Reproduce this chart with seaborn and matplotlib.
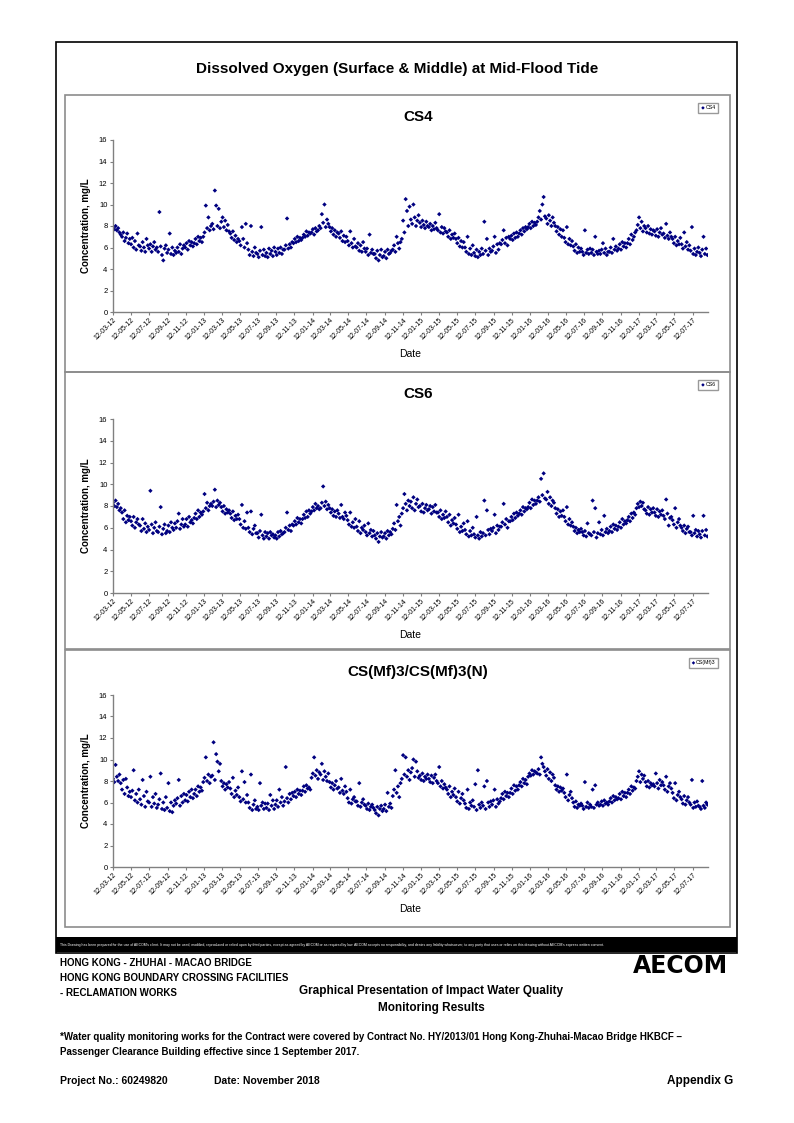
import pandas as pd
import numpy as np
import matplotlib
matplotlib.use('Agg')
import matplotlib.pyplot as plt
import matplotlib.dates as mdates
from matplotlib.patches import Rectangle
import seaborn as sns

# ---- data (mg/L), one row per month starting 12-03-12 ----
cs4_do = [
    7.9, 7.7, 8.0, 7.6, 7.8, 7.4, 7.2,
    7.0, 7.4, 6.6, 6.9, 7.3, 6.4, 6.8,
    6.3, 6.9, 6.0, 6.6, 5.8, 7.3, 6.2,
    6.1, 5.7, 6.5, 6.0, 5.6, 6.8, 6.2,
    5.9, 6.3, 5.6, 6.1, 6.5, 5.8, 6.0,
    5.6, 9.3, 6.1, 5.3, 4.8, 5.9, 6.2,
    5.5, 5.8, 7.3, 5.4, 6.0, 5.3, 5.7,
    5.5, 6.0, 5.6, 6.3, 5.4, 5.9, 6.2,
    6.0, 6.4, 5.8, 6.6, 6.2, 6.5, 6.1,
    6.4, 6.8, 6.3, 7.0, 6.6, 6.9, 6.5,
    7.0, 7.4, 9.9, 7.8, 8.8, 7.6, 8.0,
    8.2, 7.7, 11.3, 9.9, 8.0, 9.6, 7.8,
    8.4, 8.8, 7.9, 8.5, 7.6, 8.1, 7.5,
    7.3, 6.9, 7.5, 6.7, 7.1, 6.5, 6.8,
    6.6, 6.2, 7.9, 6.8, 6.0, 8.2, 6.4,
    5.8, 5.3, 8.0, 5.6, 5.2, 6.0, 5.5,
    5.4, 5.1, 5.7, 7.9, 5.3, 5.8, 5.2,
    5.5, 5.1, 5.9, 5.4, 5.7, 5.2, 6.0,
    5.6, 5.3, 5.9, 5.5, 6.0, 5.4, 5.8,
    5.8, 6.2, 8.7, 5.9, 6.3, 6.0, 6.5,
    6.4, 6.8, 6.5, 7.0, 6.6, 6.9, 6.7,
    6.9, 7.2, 7.0, 7.5, 7.1, 7.4, 7.3,
    7.4, 7.7, 7.2, 7.8, 7.5, 7.6, 8.0,
    7.8, 9.1, 8.3, 10.0, 7.9, 8.6, 8.2,
    7.9, 7.5, 7.8, 7.2, 7.6, 7.0, 7.4,
    7.3, 6.9, 7.5, 6.6, 7.1, 6.5, 7.0,
    6.6, 6.2, 7.5, 6.4, 6.0, 6.8, 6.1,
    6.0, 6.4, 5.7, 6.2, 5.6, 6.5, 5.9,
    5.6, 5.9, 5.3, 7.2, 5.5, 5.8, 5.4,
    5.4, 5.0, 5.7, 4.8, 5.3, 5.8, 5.1,
    5.2, 5.6, 5.0, 5.8, 5.4, 5.5, 5.7,
    5.8, 6.2, 5.6, 7.0, 6.4, 5.9, 6.5,
    6.8, 8.5, 7.4, 10.5, 9.4, 8.0, 9.8,
    8.6, 8.2, 10.0, 8.8, 8.0, 8.5, 9.0,
    8.3, 7.9, 8.5, 8.1, 7.8, 8.4, 8.0,
    7.9, 8.2, 7.6, 8.0, 7.7, 8.3, 7.8,
    7.6, 9.1, 7.4, 7.9, 7.3, 7.8, 7.5,
    7.4, 7.0, 7.6, 6.8, 7.2, 6.9, 7.3,
    6.8, 6.4, 6.9, 6.1, 6.6, 6.0, 6.5,
    6.0, 5.6, 7.0, 5.4, 5.9, 5.3, 6.2,
    5.5, 5.2, 5.8, 5.1, 5.6, 5.3, 5.9,
    5.4, 8.4, 5.7, 6.8, 5.3, 5.9, 5.6,
    5.7, 6.1, 7.0, 5.5, 6.3, 5.8, 6.4,
    6.3, 6.7, 7.6, 6.4, 6.9, 6.2, 7.0,
    6.8, 7.1, 6.7, 7.3, 6.9, 7.4, 7.0,
    7.3, 7.6, 7.2, 7.8, 7.5, 7.9, 7.7,
    7.9, 8.2, 7.8, 8.4, 8.0, 8.3, 8.1,
    8.4, 8.8, 9.4, 8.6, 10.0, 10.7, 8.9,
    8.7, 8.2, 9.0, 8.5, 8.0, 8.8, 8.3,
    8.0, 7.5, 7.9, 7.2, 7.7, 7.0, 7.6,
    6.9, 6.5, 7.9, 6.3, 6.8, 6.2, 6.6,
    6.1, 5.7, 6.3, 5.5, 6.0, 5.6, 5.9,
    5.6, 5.3, 7.6, 5.5, 5.8, 5.4, 5.9,
    5.5, 5.8, 5.3, 7.0, 5.6, 5.4, 5.7,
    5.4, 5.8, 6.4, 5.5, 5.9, 5.3, 5.6,
    5.6, 6.0, 5.5, 6.8, 5.8, 6.1, 5.7,
    5.9, 6.3, 5.8, 6.5, 6.1, 6.4, 6.0,
    6.4, 6.8, 6.3, 7.2, 6.7, 7.0, 7.4,
    7.6, 8.1, 8.8, 7.8, 8.4, 7.5, 8.0,
    7.8, 7.4, 8.0, 7.3, 7.7, 7.2, 7.6,
    7.5, 7.1, 7.7, 7.0, 7.4, 7.8, 7.2,
    7.3, 6.9, 8.2, 7.1, 6.8, 7.4, 7.0,
    6.8, 6.4, 7.0, 6.2, 6.6, 6.3, 6.9,
    6.3, 5.9, 7.4, 6.1, 6.5, 5.8, 6.2,
    5.7, 7.9, 5.4, 5.9, 5.3, 5.6, 6.0,
    5.5, 5.2, 5.8, 7.0, 5.4, 5.9, 5.3,
]

cs6_do = [
    8.3, 8.0, 8.5, 7.9, 8.2, 7.6, 7.8,
    7.4, 6.8, 7.6, 6.5, 7.1, 6.7, 7.0,
    6.6, 6.2, 7.0, 6.0, 6.5, 6.8, 6.3,
    6.2, 5.7, 6.8, 5.9, 6.4, 5.6, 6.1,
    5.8, 9.4, 6.3, 5.5, 6.0, 6.5, 5.7,
    5.6, 6.1, 7.9, 5.4, 5.9, 6.3, 5.5,
    5.7, 6.2, 5.6, 6.5, 6.0, 5.8, 6.4,
    6.0, 6.6, 7.3, 5.9, 6.3, 6.8, 6.1,
    6.3, 6.8, 6.1, 7.0, 6.5, 6.7, 6.4,
    6.9, 7.3, 6.8, 7.6, 7.0, 7.4, 7.2,
    7.5, 9.1, 7.8, 8.3, 7.6, 8.0, 8.2,
    8.0, 8.4, 9.5, 7.9, 8.5, 8.1, 8.3,
    7.9, 7.5, 8.0, 7.3, 7.7, 7.4, 7.6,
    7.3, 6.9, 7.5, 6.7, 7.1, 6.8, 7.2,
    6.8, 6.3, 8.1, 6.0, 6.6, 5.9, 7.4,
    6.0, 5.6, 7.5, 5.4, 5.9, 6.2, 5.5,
    5.5, 5.1, 5.7, 7.2, 5.3, 5.0, 5.6,
    5.2, 5.5, 5.0, 5.6, 5.3, 5.4, 5.1,
    5.3, 5.0, 5.6, 5.2, 5.7, 5.4, 5.5,
    5.6, 6.0, 7.4, 5.8, 6.2, 5.7, 6.3,
    6.2, 6.6, 6.3, 6.9, 6.5, 6.8, 6.4,
    6.8, 7.2, 6.9, 7.5, 7.0, 7.6, 7.3,
    7.5, 7.9, 7.6, 8.2, 7.8, 8.0, 7.7,
    7.8, 8.3, 9.8, 8.0, 8.4, 7.7, 8.1,
    7.8, 7.4, 7.7, 7.1, 7.5, 7.0, 7.6,
    7.3, 6.9, 8.1, 7.0, 6.8, 7.4, 7.1,
    6.7, 6.3, 7.4, 6.1, 6.5, 6.0, 6.8,
    6.1, 5.7, 6.6, 5.5, 6.0, 5.8, 6.2,
    5.6, 5.3, 6.4, 5.5, 5.8, 5.2, 5.7,
    5.3, 5.0, 5.5, 4.7, 5.2, 5.6, 5.1,
    5.2, 5.5, 5.0, 5.7, 5.3, 5.6, 5.4,
    5.9, 6.4, 5.8, 8.1, 6.6, 7.0, 6.2,
    7.3, 7.8, 9.1, 8.2, 7.6, 8.5, 8.0,
    8.4, 7.8, 8.8, 7.6, 8.2, 8.6, 7.9,
    8.0, 7.5, 8.2, 7.4, 7.8, 8.1, 7.6,
    7.7, 8.0, 7.3, 7.9, 7.5, 8.1, 7.4,
    7.4, 7.0, 7.6, 6.8, 7.2, 6.9, 7.5,
    7.0, 6.5, 7.2, 6.2, 6.7, 6.4, 6.9,
    6.3, 5.9, 7.2, 5.6, 6.1, 5.7, 6.4,
    5.8, 5.4, 6.6, 5.2, 5.7, 5.3, 6.0,
    5.4, 5.1, 7.0, 5.3, 5.0, 5.6, 5.2,
    5.5, 8.5, 5.3, 7.6, 5.8, 5.4, 5.9,
    5.7, 6.0, 7.2, 5.5, 6.2, 5.8, 6.1,
    6.1, 6.5, 8.2, 6.3, 6.8, 6.0, 6.6,
    6.6, 7.0, 6.7, 7.3, 6.9, 7.4, 7.1,
    7.3, 7.6, 7.2, 7.9, 7.5, 7.8, 7.7,
    7.9, 8.3, 7.8, 8.6, 8.1, 8.5, 8.2,
    8.5, 8.8, 8.4, 10.5, 9.0, 11.0, 8.7,
    8.6, 9.3, 8.2, 8.8, 8.0, 8.5, 8.3,
    7.8, 7.3, 7.7, 7.0, 7.5, 7.1, 7.6,
    7.0, 6.6, 7.9, 6.3, 6.8, 6.2, 6.5,
    6.1, 5.7, 6.0, 5.5, 5.8, 5.6, 5.9,
    5.6, 5.3, 5.7, 5.2, 6.4, 5.5, 5.4,
    5.3, 8.5, 5.6, 7.8, 5.1, 5.5, 6.5,
    5.4, 5.8, 5.3, 7.1, 5.6, 5.9, 5.5,
    5.7, 6.1, 5.6, 6.3, 5.9, 6.2, 5.8,
    6.1, 6.5, 6.0, 6.8, 6.3, 6.6, 6.4,
    6.7, 7.0, 6.6, 7.3, 6.9, 7.4, 7.2,
    7.8, 8.2, 7.9, 8.4, 8.0, 8.3, 7.7,
    7.6, 7.3, 7.9, 7.2, 7.7, 7.4, 7.8,
    7.4, 7.1, 7.7, 7.0, 7.5, 7.2, 7.6,
    7.1, 6.8, 8.6, 7.3, 6.2, 6.9, 7.0,
    6.7, 6.3, 7.8, 6.0, 6.5, 6.8, 6.2,
    6.0, 5.7, 6.2, 5.5, 5.9, 6.1, 5.6,
    5.6, 5.3, 7.1, 5.5, 5.8, 5.2, 5.7,
    5.4, 5.1, 5.7, 7.1, 5.3, 5.8, 5.2,
]

csmf3_do = [
    8.2, 7.9, 9.5, 8.4, 8.0, 8.6, 7.8,
    7.2, 8.1, 6.8, 8.2, 7.4, 6.6, 7.0,
    6.5, 7.1, 9.0, 6.2, 6.8, 6.0, 7.2,
    6.3, 5.8, 8.1, 6.6, 5.6, 7.0, 6.1,
    6.0, 8.4, 5.6, 6.5, 5.9, 6.8, 5.5,
    5.8, 6.3, 8.7, 5.4, 6.0, 5.3, 6.5,
    5.5, 7.8, 5.2, 6.0, 5.1, 5.7, 6.2,
    5.9, 6.4, 8.1, 5.7, 6.6, 6.0, 6.8,
    6.2, 6.7, 6.1, 7.0, 6.5, 7.2, 6.4,
    6.8, 7.2, 6.6, 7.5, 7.0, 7.4, 7.1,
    7.9, 8.3, 10.2, 8.0, 8.6, 7.8, 8.4,
    8.5, 11.6, 8.1, 10.5, 9.8, 8.9, 9.6,
    8.0, 7.5, 7.8, 7.2, 7.7, 7.4, 7.9,
    7.3, 6.8, 8.3, 6.5, 7.1, 6.7, 7.4,
    6.5, 6.1, 8.9, 6.3, 7.9, 6.0, 6.7,
    6.0, 5.5, 8.6, 5.3, 5.8, 6.2, 5.4,
    5.6, 5.3, 7.8, 5.7, 6.0, 5.4, 5.9,
    5.5, 5.9, 5.3, 6.7, 5.7, 6.2, 5.4,
    5.8, 6.2, 5.6, 7.2, 6.0, 6.5, 5.7,
    6.1, 9.3, 6.4, 6.0, 6.8, 6.3, 6.9,
    6.6, 7.0, 6.5, 7.2, 6.8, 7.1, 6.7,
    7.1, 7.5, 7.0, 7.6, 7.3, 7.4, 7.2,
    8.3, 8.7, 10.2, 8.5, 9.0, 8.2, 8.8,
    8.6, 9.6, 8.1, 8.9, 8.4, 8.0, 8.7,
    7.9, 7.4, 7.8, 7.2, 7.6, 8.0, 7.3,
    7.4, 6.9, 8.2, 7.1, 6.8, 7.5, 7.0,
    6.4, 6.0, 7.2, 5.9, 6.3, 6.5, 6.1,
    6.1, 5.7, 7.8, 5.6, 6.0, 6.3, 5.8,
    5.7, 5.4, 5.9, 5.3, 5.6, 5.8, 5.5,
    5.3, 5.0, 5.6, 4.8, 5.4, 5.7, 5.2,
    5.4, 5.8, 5.2, 6.9, 5.6, 5.9, 5.5,
    6.6, 7.2, 9.0, 6.9, 7.5, 6.5, 7.8,
    8.2, 10.4, 8.6, 10.2, 8.4, 9.0, 8.1,
    8.8, 9.2, 10.0, 8.4, 9.8, 8.9, 8.3,
    8.5, 8.1, 8.7, 8.0, 8.4, 8.2, 8.6,
    8.2, 7.9, 8.5, 7.8, 8.3, 8.6, 8.0,
    7.8, 9.3, 7.5, 8.0, 7.3, 7.7, 7.4,
    7.2, 6.8, 7.5, 6.5, 7.0, 6.7, 7.3,
    6.5, 6.1, 7.0, 5.9, 6.4, 6.8, 6.2,
    5.9, 5.5, 7.2, 5.4, 6.0, 5.7, 6.2,
    5.6, 7.7, 5.3, 9.0, 5.8, 5.5, 6.0,
    5.7, 7.5, 5.4, 8.0, 6.0, 5.6, 6.1,
    5.8, 6.2, 7.2, 5.6, 6.3, 5.9, 6.1,
    6.4, 6.8, 6.3, 7.0, 6.6, 6.9, 6.5,
    6.9, 7.3, 6.8, 7.6, 7.1, 7.5, 7.2,
    7.6, 7.9, 7.5, 8.2, 7.8, 8.1, 7.7,
    8.4, 8.7, 8.5, 9.0, 8.6, 8.9, 8.8,
    8.7, 9.1, 8.6, 10.2, 9.6, 9.3, 8.9,
    8.5, 9.1, 8.2, 8.8, 8.0, 8.6, 8.3,
    7.6, 7.2, 7.5, 7.0, 7.4, 7.1, 7.3,
    6.9, 6.5, 8.6, 6.2, 6.7, 7.0, 6.4,
    6.0, 5.6, 6.1, 5.5, 5.8, 5.7, 5.9,
    5.7, 5.4, 7.9, 5.6, 6.0, 5.5, 5.8,
    5.6, 7.2, 5.5, 7.6, 5.8, 6.0, 5.7,
    5.8, 6.1, 5.7, 6.2, 5.9, 6.0, 5.8,
    6.1, 6.4, 6.0, 6.6, 6.2, 6.5, 6.3,
    6.4, 6.8, 6.3, 7.0, 6.6, 6.9, 6.5,
    6.9, 7.2, 6.8, 7.5, 7.1, 7.4, 7.3,
    8.0, 8.4, 8.9, 7.9, 8.6, 8.2, 8.5,
    7.9, 7.5, 8.0, 7.4, 7.8, 7.6, 7.7,
    7.5, 8.7, 7.8, 7.3, 8.1, 7.6, 7.9,
    7.6, 7.2, 8.4, 7.0, 7.5, 7.8, 7.3,
    6.9, 6.4, 7.8, 6.2, 6.7, 7.0, 6.5,
    6.3, 5.9, 6.6, 5.8, 6.2, 6.5, 6.0,
    5.8, 8.1, 5.5, 6.0, 5.6, 6.1, 5.7,
    5.6, 5.4, 8.0, 5.7, 5.5, 6.0, 5.8,
]

stations = ['CS4', 'CS6', 'CS(Mf)3']
panel_titles = ['CS4', 'CS6', 'CS(Mf)3/CS(Mf)3(N)']
series = [cs4_do, cs6_do, csmf3_do]

dates = pd.date_range('2012-03-12', '2017-08-31', periods=len(cs4_do))
x_start = pd.Timestamp('2012-03-12')
x_end = pd.Timestamp('2017-09-02')

W, H = 794, 1123
fig = plt.figure(figsize=(W / 100, H / 100), dpi=100)
plt.rcParams['font.family'] = ['Liberation Sans', 'DejaVu Sans']


def fx(px):
    return px / W


def fy(py):
    return 1 - py / H


def frame(x0, y0, x1, y1, **kw):
    fig.add_artist(Rectangle((fx(x0), fy(y1)), fx(x1) - fx(x0), fy(y0) - fy(y1),
                             transform=fig.transFigure, fill=False, **kw))


# outer frame and black disclaimer strip
frame(56, 42, 737, 953, edgecolor='black', linewidth=1.2)
fig.add_artist(Rectangle((fx(56), fy(952)), fx(737) - fx(56), fy(937) - fy(952),
                         transform=fig.transFigure, facecolor='black', edgecolor='none'))

fig.text(fx(397), fy(69), 'Dissolved Oxygen (Surface & Middle) at Mid-Flood Tide',
         ha='center', va='center', fontsize=11, fontweight='bold')

panel_top = [95, 372, 650]
axes_y = [(140, 312), (419, 593), (695, 867)]

for i, (vals, name, ttl) in enumerate(zip(series, stations, panel_titles)):
    p0 = panel_top[i]
    frame(65, p0, 730, p0 + 277, edgecolor='#8c8c8c', linewidth=1.2)

    y0, y1 = axes_y[i]
    ax = fig.add_axes([fx(113), fy(y1), fx(708) - fx(113), fy(y0) - fy(y1)])
    df = pd.DataFrame({'Date': dates, 'DO': vals})
    sns.scatterplot(data=df, x='Date', y='DO', ax=ax, marker='D', s=5,
                    color='#000080', edgecolor='none', linewidth=0, label=name)

    ax.set_xlim(x_start, x_end)
    ax.set_ylim(0, 16)
    ax.set_yticks(range(0, 17, 2))
    ax.xaxis.set_major_locator(mdates.MonthLocator(bymonth=[1, 3, 5, 7, 9, 11], bymonthday=12))
    ax.xaxis.set_major_formatter(mdates.DateFormatter('%d-%m-%y'))
    ax.tick_params(axis='x', labelsize=5, rotation=45, length=2.5, color='#808080', pad=1)
    ax.tick_params(axis='y', labelsize=5.5, length=2.5, color='#808080', pad=1.5)
    for lbl in ax.get_xticklabels():
        lbl.set_ha('right')
        lbl.set_rotation_mode('anchor')
    for side in ['top', 'right']:
        ax.spines[side].set_visible(False)
    for side in ['left', 'bottom']:
        ax.spines[side].set_color('#808080')
        ax.spines[side].set_linewidth(1)
    ax.set_xlabel('Date', fontsize=7.5, labelpad=5)
    ax.set_ylabel('Concentration, mg/L', fontsize=7, fontweight='bold', labelpad=6)

    # small legend box in the top-right corner of each panel
    ax.legend(loc='upper right', bbox_to_anchor=(fx(721), fy(p0 + 5)),
              bbox_transform=fig.transFigure, fontsize=3.8, frameon=True,
              fancybox=False, edgecolor='#808080', handletextpad=0.1,
              handlelength=0.8, borderpad=0.5, markerscale=0.8)

    fig.text(fx(418), fy(p0 + 22), ttl, ha='center', va='center',
             fontsize=11, fontweight='bold')

# disclaimer strip
fig.text(fx(60), fy(945), "This Drawing has been prepared for the use of AECOM's client. It may not be used, "
         "modified, reproduced or relied upon by third parties, except as agreed by AECOM or as required by law. "
         "AECOM accepts no responsibility, and denies any liability whatsoever, to any party that uses or relies "
         "on this drawing without AECOM's express written consent.",
         color='white', fontsize=2.5, va='center', ha='left')

# footer
narrow = ['Liberation Sans Narrow', 'Liberation Sans', 'DejaVu Sans']
fig.text(fx(60), fy(963), 'HONG KONG - ZHUHAI - MACAO BRIDGE', fontsize=7, fontweight='bold', va='center', family=narrow)
fig.text(fx(60), fy(978), 'HONG KONG BOUNDARY CROSSING FACILITIES', fontsize=7, fontweight='bold', va='center', family=narrow)
fig.text(fx(60), fy(993), '- RECLAMATION WORKS', fontsize=7, fontweight='bold', va='center', family=narrow)
fig.text(fx(431), fy(991), 'Graphical Presentation of Impact Water Quality', fontsize=8.5,
         fontweight='bold', ha='center', va='center', family=narrow)
fig.text(fx(431), fy(1008), 'Monitoring Results', fontsize=8.5, fontweight='bold',
         ha='center', va='center', family=narrow)
fig.text(fx(680), fy(966), 'AECOM', fontsize=17, fontweight='heavy', ha='center',
         va='center', family=['DejaVu Sans'])

fig.text(fx(60), fy(1037), '*Water quality monitoring works for the Contract were covered by Contract No. '
         'HY/2013/01 Hong Kong-Zhuhai-Macao Bridge HKBCF \u2013', fontsize=7, fontweight='bold',
         va='center', family=narrow)
fig.text(fx(60), fy(1052), 'Passenger Clearance Building effective since 1 September 2017.',
         fontsize=7, fontweight='bold', va='center', family=narrow)
fig.text(fx(60), fy(1081), 'Project No.: 60249820', fontsize=7.5, fontweight='bold', va='center', family=narrow)
fig.text(fx(214), fy(1081), 'Date: November 2018', fontsize=7.5, fontweight='bold', va='center', family=narrow)
fig.text(fx(733), fy(1081), 'Appendix G', fontsize=8.5, fontweight='bold', ha='right', va='center', family=narrow)

fig.savefig('out.png', dpi=100)
